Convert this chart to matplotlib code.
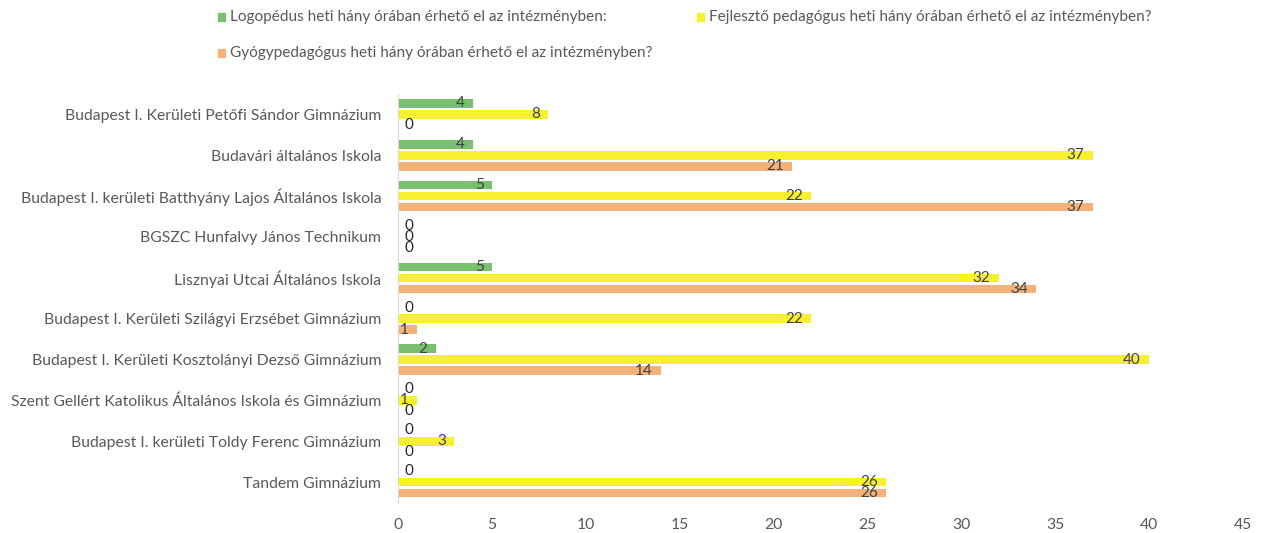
import matplotlib
matplotlib.use("Agg")
import matplotlib.pyplot as plt
import numpy as np
from matplotlib.patches import Rectangle

categories = [
    "Budapest I. Kerületi Petőfi Sándor Gimnázium",
    "Budavári általános Iskola",
    "Budapest I. kerületi Batthyány Lajos Általános Iskola",
    "BGSZC Hunfalvy János Technikum",
    "Lisznyai Utcai Általános Iskola",
    "Budapest I. Kerületi Szilágyi Erzsébet Gimnázium",
    "Budapest I. Kerületi Kosztolányi Dezső Gimnázium",
    "Szent Gellért Katolikus Általános Iskola és Gimnázium",
    "Budapest I. kerületi Toldy Ferenc Gimnázium",
    "Tandem Gimnázium",
]
logopedus = [4, 4, 5, 0, 5, 0, 2, 0, 0, 0]
fejleszto = [8, 37, 22, 0, 32, 22, 40, 1, 3, 26]
gyogyped = [0, 21, 37, 0, 34, 1, 14, 0, 0, 26]
series_names = [
    "Logopédus heti hány órában érhető el az intézményben:",
    "Fejlesztő pedagógus heti hány órában érhető el az intézményben?",
    "Gyógypedagógus heti hány órában érhető el az intézményben?",
]
xticks = [0, 5, 10, 15, 20, 25, 30, 35, 40, 45]

colors = ["#78bf6e", "#f7f02e", "#f2b27a"]
font = ["Lato", "DejaVu Sans"]
plt.rcParams['font.family'] = font
grey = "#595959"

fig = plt.figure(figsize=(12.66, 5.33), dpi=100)
ax = fig.add_axes([0.3144, 0.0572, 0.6674, 0.7664])

y = np.arange(len(categories))
off = 0.27
h = 0.21
for vals, col, dy in zip([logopedus, fejleszto, gyogyped], colors, [-off, 0, off]):
    ax.barh(y + dy, vals, height=h, color=col, edgecolor='none')
    for yi, v in zip(y, vals):
        if v == 0:
            ax.annotate(str(v), (v, yi + dy), xytext=(5, 0), textcoords='offset points',
                        ha='left', va='center', fontsize=11, color="#262626")
        else:
            ax.annotate(str(v), (v, yi + dy), xytext=(-6, 0), textcoords='offset points',
                        ha='right', va='center', fontsize=11, color="#404040")

ax.set_ylim(len(categories) - 0.5, -0.5)
ax.set_xlim(0, 45)
ax.set_yticks(y)
ax.set_yticklabels(categories, fontsize=11.3, color=grey)
ax.set_xticks(xticks)
ax.set_xticklabels([str(t) for t in xticks], fontsize=11.3, color=grey)
ax.tick_params(axis='y', length=0, pad=12)
ax.tick_params(axis='x', length=0, pad=11)
for s in ['top', 'right', 'bottom']:
    ax.spines[s].set_visible(False)
ax.spines['left'].set_color('#d9d9d9')
ax.spines['left'].set_linewidth(0.8)

# legend (manual)
leg_pos = [(222, 17), (701, 17), (222, 53)]
W, H = 1266, 533
for (px, py), col, name in zip(leg_pos, colors, series_names):
    fig.patches.append(Rectangle(((px - 4) / W, 1 - (py + 4) / H), 7 / W, 8 / H,
                                 transform=fig.transFigure, color=col, figure=fig))
    fig.text((px + 8) / W, 1 - py / H, name, fontsize=11.1, color=grey,
             ha='left', va='center')

fig.savefig("out.png", dpi=100)
